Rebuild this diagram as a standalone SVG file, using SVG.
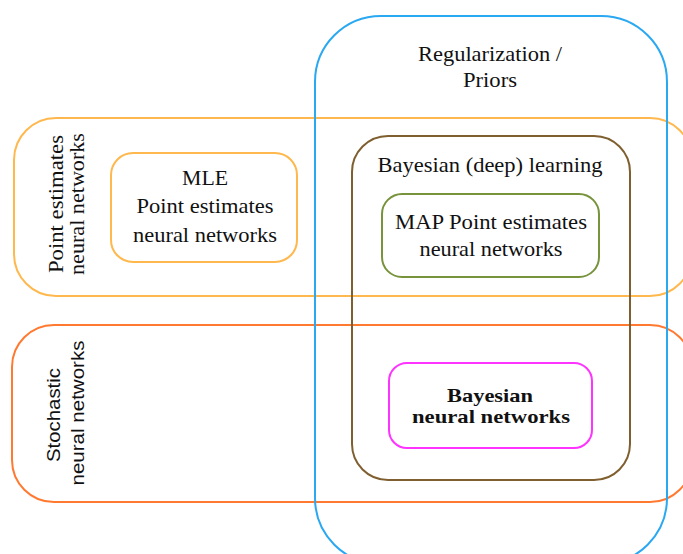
<svg xmlns="http://www.w3.org/2000/svg" width="683" height="554" viewBox="0 0 683 554">
<style>
.b{fill:none;stroke-width:2}
.t{font-family:"Liberation Serif",serif;font-size:21px;fill:#111;text-anchor:middle}
.s{font-family:"Liberation Sans",sans-serif;font-size:18px;fill:#111;text-anchor:middle}
.bold{font-weight:bold;font-size:19px}
</style>
<rect width="683" height="554" fill="#fff"/>
<g id="point-estimates-group">
<rect class="b" x="14" y="118" width="678" height="178" rx="42" stroke="#FFB84D"/>
<text class="t" transform="translate(63,204) rotate(-90)" textLength="138" lengthAdjust="spacingAndGlyphs">Point estimates</text>
<text class="t" transform="translate(84,204) rotate(-90)" textLength="142" lengthAdjust="spacingAndGlyphs">neural networks</text>
</g>
<g id="stochastic-group">
<rect class="b" x="12" y="325" width="680" height="177" rx="42" stroke="#FF7A30"/>
<text class="s" transform="translate(60,415) rotate(-90)" textLength="94" lengthAdjust="spacingAndGlyphs">Stochastic</text>
<text class="s" transform="translate(84,413) rotate(-90)" textLength="145" lengthAdjust="spacingAndGlyphs">neural networks</text>
</g>
<g id="regularization-group">
<rect class="b" x="315" y="16" width="352" height="548" rx="66" stroke="#2AA8F2"/>
<text class="t" x="490" y="61" textLength="144" lengthAdjust="spacingAndGlyphs">Regularization /</text>
<text class="t" x="490" y="87" textLength="54" lengthAdjust="spacingAndGlyphs">Priors</text>
</g>
<g id="bayesian-learning">
<rect class="b" x="352" y="136" width="278" height="344" rx="36" stroke="#7F5F2F"/>
<text class="t" x="490" y="172" textLength="225" lengthAdjust="spacingAndGlyphs">Bayesian (deep) learning</text>
</g>
<g id="mle">
<rect class="b" x="111" y="153" width="186" height="109" rx="22" stroke="#FFB84D"/>
<text class="t" x="205" y="185" textLength="46" lengthAdjust="spacingAndGlyphs">MLE</text>
<text class="t" x="205" y="213" textLength="137" lengthAdjust="spacingAndGlyphs">Point estimates</text>
<text class="t" x="205" y="242" textLength="144" lengthAdjust="spacingAndGlyphs">neural networks</text>
</g>
<g id="map">
<rect class="b" x="382" y="194" width="217" height="83" rx="20" stroke="#77933C"/>
<text class="t" x="491" y="229" textLength="192" lengthAdjust="spacingAndGlyphs">MAP Point estimates</text>
<text class="t" x="491" y="256" textLength="143" lengthAdjust="spacingAndGlyphs">neural networks</text>
</g>
<g id="bnn">
<rect class="b" x="389" y="363" width="203" height="85" rx="18" stroke="#FF33FF"/>
<text class="t bold" x="490" y="402" textLength="86" lengthAdjust="spacingAndGlyphs">Bayesian</text>
<text class="t bold" x="491" y="423" textLength="158" lengthAdjust="spacingAndGlyphs">neural networks</text>
</g>
<g id="connectors"/>
</svg>
